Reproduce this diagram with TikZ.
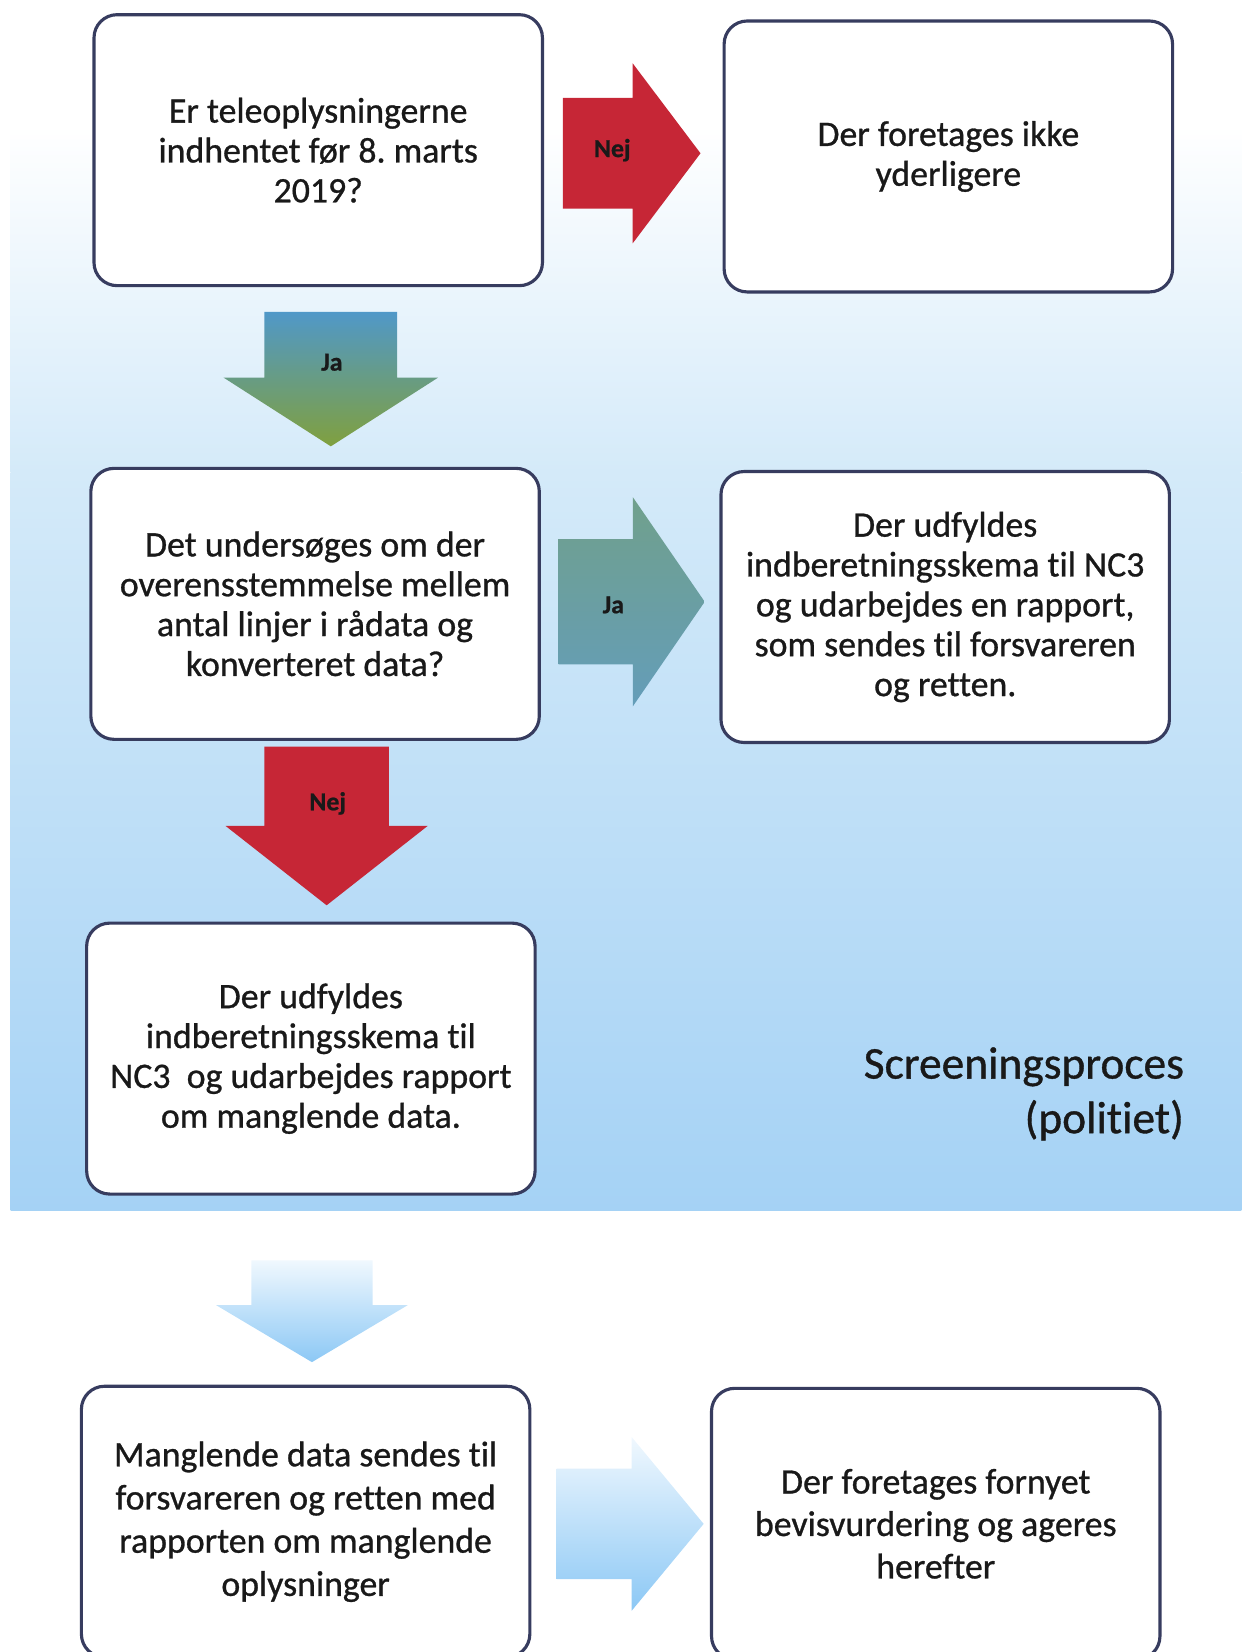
\documentclass[tikz,border=0pt]{standalone}
\usepackage{fontspec}
\setmainfont{Carlito}[Ligatures={NoCommon,NoContextual,NoRequired}, Contextuals=NoAlternate, FakeBold=0.8]
\usetikzlibrary{positioning}
\usetikzlibrary{shapes.arrows}
\frenchspacing

\definecolor{boxline}{RGB}{55,60,95}
\definecolor{textgray}{RGB}{25,25,25}
\definecolor{nejred}{RGB}{198,38,54}
\definecolor{bgmid}{RGB}{212,234,249}
\definecolor{bgblue}{RGB}{165,210,245}
\definecolor{jablue}{RGB}{80,152,200}
\definecolor{jamix}{RGB}{105,158,140}
\definecolor{jagreen}{RGB}{128,160,62}
\definecolor{jateal}{RGB}{100,157,185}
\definecolor{jaolive}{RGB}{112,160,140}
\definecolor{ltblue}{RGB}{140,200,245}
\definecolor{ltpale}{RGB}{240,248,254}

\tikzset{
  box/.style={draw=boxline, line width=0.85pt, rounded corners=2.2mm, fill=white,
    minimum width=42.7mm, minimum height=25.8mm, inner sep=0pt, align=center,
    text=textgray, font=\fontsize{9.7}{10.8}\selectfont},
  blockarrow/.style={single arrow, draw=none, inner xsep=0pt, outer sep=0pt,
    anchor=tail, single arrow head indent=0pt},
  arrowlabel/.style={inner sep=0pt, text=textgray, font=\fontsize{7}{8}\selectfont\bfseries},
  title/.style={inner sep=0pt, align=right, text=textgray, font=\fontsize{12.3}{14.8}\selectfont}
}

\begin{document}
\begin{tikzpicture}[x=0.1mm,y=-0.1mm]
\useasboundingbox (0,0) rectangle (1182,1573);

% background
\shade[top color=white, bottom color=bgmid] (10,120) rectangle (1182,450);
\shade[top color=bgmid, bottom color=bgblue] (10,450) rectangle (1182,1153);

\node[box] (ask) at (303,143) {Er teleoplysningerne\\indhentet før 8. marts\\2019?};
\node[box, right=1.7cm of ask, yshift=-0.6mm] (noFurther) {Der foretages ikke\\yderligere};

\node[box, below=1.71cm of ask, xshift=-0.3mm] (compare) {Det undersøges om der\\overensstemmelse mellem\\antal linjer i rådata og\\konverteret data?};
\node[box, right=1.7cm of compare, yshift=-0.3mm] (reportNC) {Der udfyldes\\indberetningsskema til NC3\\og udarbejdes en rapport,\\som sendes til forsvareren\\og retten.};

\node[box, below=1.72cm of compare, xshift=-0.4mm] (missing) {Der udfyldes\\indberetningsskema til\\NC3~ og udarbejdes rapport\\om manglende data.};

\node[title, anchor=base east] (proc) at (1128,1079) {Screeningsproces\\(politiet)};

\node[box, below=1.8cm of missing, xshift=-0.5mm, font=\fontsize{9.7}{11.7}\selectfont] (sendMissing) {Manglende data sendes til\\forsvareren og retten med\\rapporten om manglende\\oplysninger};
\node[box, right=1.7cm of sendMissing, yshift=-0.2mm, font=\fontsize{9.7}{11.5}\selectfont] (reassess) {Der foretages fornyet\\bevisvurdering og ageres\\herefter};

% arrows
\node[blockarrow, fill=nejred, inner ysep=5.2mm, single arrow head extend=3.3mm,
  minimum height=13.1mm, single arrow tip angle=106] (nejA) at (536,146) {};
\node[blockarrow, rotate=-90, top color=jablue, middle color=jamix, bottom color=jagreen,
  inner ysep=6.25mm, single arrow head extend=3.9mm,
  minimum height=12.8mm, single arrow tip angle=114.7] (jaA) at (315,297) {};
\node[blockarrow, top color=jaolive, middle color=jateal, bottom color=jateal,
  inner ysep=5.9mm, single arrow head extend=4mm,
  minimum height=13.9mm, single arrow tip angle=111] (jaB) at (532,573) {};
\node[blockarrow, rotate=-90, fill=nejred, inner ysep=5.85mm, single arrow head extend=3.7mm,
  minimum height=15.1mm, single arrow tip angle=103.7] (nejB) at (311,711) {};
\node[blockarrow, rotate=-90, top color=ltpale, bottom color=ltblue,
  inner ysep=5.7mm, single arrow head extend=3.35mm,
  minimum height=9.7mm, single arrow tip angle=118.5] (downC) at (297,1200) {};
\node[blockarrow, top color=ltpale, bottom color=ltblue,
  inner ysep=5.2mm, single arrow head extend=3mm,
  minimum height=14mm, single arrow tip angle=100.7] (rightC) at (530,1451) {};

\begin{scope}[every node/.style={arrowlabel}]
\node (nejAlab) at (583,143) {Nej};
\node (jaAlab) at (316,345) {Ja};
\node (jaBlab) at (584,576) {Ja};
\node (nejBlab) at (312,765) {Nej};
\end{scope}

\end{tikzpicture}
\end{document}
